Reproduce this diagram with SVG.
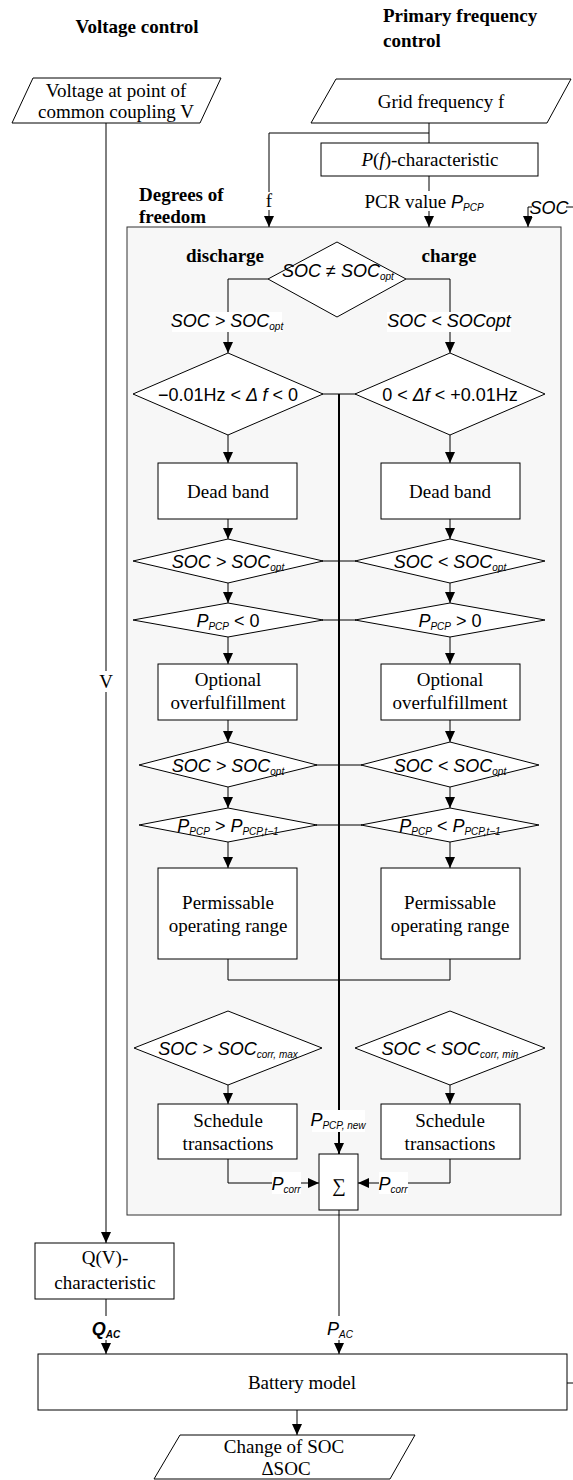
<svg xmlns="http://www.w3.org/2000/svg" width="573" height="1480" viewBox="0 0 573 1480">
<style>
.t{font-family:"Liberation Serif",serif;font-size:19px;fill:#000;text-anchor:middle}
.b{font-family:"Liberation Serif",serif;font-size:19px;font-weight:bold;fill:#000}
.s{font-family:"Liberation Sans",sans-serif;font-size:18px;fill:#000;text-anchor:middle}
.i{font-style:italic}
.sub{font-size:10px;font-style:italic}
.node{fill:#fff;stroke:#000;stroke-width:1}
.ln{fill:none;stroke:#000;stroke-width:1}
.thick{fill:none;stroke:#000;stroke-width:2}
.bg{fill:#fff}
</style>
<defs>
<marker id="arr" markerUnits="userSpaceOnUse" markerWidth="11" markerHeight="10" refX="11" refY="5" orient="auto">
<path d="M0,0 L11,5 L0,10 z" fill="#000"/>
</marker>
</defs>

<g id="titles">
<text class="b" x="137" y="33" text-anchor="middle">Voltage control</text>
<text class="b" x="383" y="22">Primary frequency</text>
<text class="b" x="383" y="47">control</text>
<text class="b" x="139" y="201">Degrees of</text>
<text class="b" x="139" y="223">freedom</text>
</g>

<g id="freedom-box">
<rect x="127" y="227" width="434" height="988" fill="#f7f7f7" stroke="#333" stroke-width="1"/>
<text class="b" x="225" y="262" text-anchor="middle">discharge</text>
<text class="b" x="449" y="262" text-anchor="middle">charge</text>
</g>

<g id="connectors">
<path class="ln" d="M106,123 V1243" stroke="#222" marker-end="url(#arr)"/>
<path class="ln" d="M429,123 V143"/>
<path class="ln" d="M429,133 H269 V227" marker-end="url(#arr)"/>
<path class="ln" d="M429,176 V227" marker-end="url(#arr)"/>
<path class="ln" d="M567,1383 H576 V207 H528 V227" marker-end="url(#arr)"/>
<path class="ln" d="M268,279 H228 V353" marker-end="url(#arr)"/>
<path class="ln" d="M406,279 H450 V353" marker-end="url(#arr)"/>
<path class="ln" d="M228,435 V463" marker-end="url(#arr)"/>
<path class="ln" d="M450,435 V463" marker-end="url(#arr)"/>
<path class="ln" d="M228,519 V539" marker-end="url(#arr)"/>
<path class="ln" d="M450,519 V539" marker-end="url(#arr)"/>
<path class="ln" d="M228,583 V603" marker-end="url(#arr)"/>
<path class="ln" d="M450,583 V603" marker-end="url(#arr)"/>
<path class="ln" d="M228,637 V664" marker-end="url(#arr)"/>
<path class="ln" d="M450,637 V664" marker-end="url(#arr)"/>
<path class="ln" d="M228,720 V742" marker-end="url(#arr)"/>
<path class="ln" d="M450,720 V742" marker-end="url(#arr)"/>
<path class="ln" d="M228,787 V808" marker-end="url(#arr)"/>
<path class="ln" d="M450,787 V808" marker-end="url(#arr)"/>
<path class="ln" d="M228,842 V868" marker-end="url(#arr)"/>
<path class="ln" d="M450,842 V868" marker-end="url(#arr)"/>
<path class="ln" d="M228,959 V980 H450 V959"/>
<path class="ln" d="M228,1085 V1104" marker-end="url(#arr)"/>
<path class="ln" d="M450,1085 V1104" marker-end="url(#arr)"/>
<path class="ln" d="M228,1159 V1183 H319" marker-end="url(#arr)"/>
<path class="ln" d="M450,1159 V1183 H358" marker-end="url(#arr)"/>
<path class="ln" d="M322,394 H356 M322,561 H356 M322,620 H356 M316,765 H362 M316,825 H362"/>
<path class="thick" d="M339,394 V1154" marker-end="url(#arr)"/>
<path class="ln" d="M339,1210 V1354" stroke="#777" marker-end="url(#arr)"/>
<path class="ln" d="M106,1299 V1354" marker-end="url(#arr)"/>
<path class="ln" d="M297,1410 V1435" marker-end="url(#arr)"/>
</g>

<g id="labels">
<rect class="bg" x="99" y="671" width="15" height="21"/>
<text class="t" x="106" y="688">V</text>
<rect class="bg" x="263" y="192" width="12" height="18"/>
<text class="t" x="269" y="207">f</text>
<rect class="bg" x="367" y="191" width="124" height="20"/>
<text class="t" x="424" y="208">PCR value <tspan class="s i" font-size="18">P</tspan><tspan class="sub" font-family="Liberation Sans" font-size="9" dy="3">PCP</tspan></text>
<rect class="bg" x="532" y="197" width="34" height="20"/>
<text class="s i" x="549" y="214">SOC</text>
<rect class="bg" x="172" y="312" width="110" height="20" fill="#fff"/>
<text class="s i" x="227" y="327">SOC &gt; SOC<tspan class="sub" dy="3">opt</tspan></text>
<rect class="bg" x="387" y="312" width="124" height="20"/>
<text class="s i" x="449" y="327">SOC &lt; SOCopt</text>
<rect class="bg" x="312" y="1110" width="53" height="22"/>
<text class="s i" x="338" y="1126">P<tspan class="sub" font-family="Liberation Sans" font-size="9" dy="3">PCP, new</tspan></text>
<rect class="bg" x="272" y="1172" width="29" height="22"/>
<text class="s i" x="286" y="1190">P<tspan class="sub" font-family="Liberation Sans" font-size="9" dy="3">corr</tspan></text>
<rect class="bg" x="379" y="1172" width="29" height="22"/>
<text class="s i" x="393" y="1190">P<tspan class="sub" font-family="Liberation Sans" font-size="9" dy="3">corr</tspan></text>
<rect class="bg" x="92" y="1316" width="28" height="24"/>
<text class="s i" x="106" y="1335" font-weight="bold">Q<tspan class="sub" font-family="Liberation Sans" font-size="9" dy="3">AC</tspan></text>
<rect class="bg" x="327" y="1316" width="26" height="24"/>
<text class="s i" x="340" y="1335">P<tspan class="sub" font-family="Liberation Sans" font-size="9" dy="3">AC</tspan></text>
</g>

<g id="voltage-input">
<polygon class="node" points="33,78 221,78 200,123 12,123"/>
<text class="t" x="116" y="97">Voltage at point of</text>
<text class="t" x="116" y="118">common coupling V</text>
</g>
<g id="grid-frequency">
<polygon class="node" points="336,79 571,79 547,123 311,123"/>
<text class="t" x="441" y="108">Grid frequency f</text>
</g>
<g id="pf-characteristic">
<rect class="node" x="321" y="143" width="217" height="33"/>
<text class="t" x="430" y="166"><tspan font-style="italic">P</tspan>(<tspan font-style="italic">f</tspan>)-characteristic</text>
</g>

<g id="d-soc-neq">
<polygon class="node" points="337,242 406,279 337,317 268,279"/>
<text class="s i" x="338" y="277">SOC ≠  SOC<tspan class="sub" dy="3">opt</tspan></text>
</g>

<g id="d-df-neg">
<polygon class="node" points="228,353 323,394 228,435 133,394"/>
<text class="s" x="228" y="401" font-size="19.5">−0.01Hz &lt; <tspan class="i">Δ f</tspan> &lt; 0</text>
</g>
<g id="d-df-pos">
<polygon class="node" points="450,353 545,394 450,435 355,394"/>
<text class="s" x="450" y="401" font-size="19">0 &lt; <tspan class="i">Δf</tspan> &lt; +0.01Hz</text>
</g>

<g id="deadband-l"><rect class="node" x="158" y="463" width="139" height="56"/><text class="t" x="228" y="498">Dead band</text></g>
<g id="deadband-r"><rect class="node" x="381" y="463" width="139" height="56"/><text class="t" x="450" y="498">Dead band</text></g>

<g id="d-soc-gt-1">
<polygon class="node" points="228,539 323,561 228,583 133,561"/>
<text class="s i" x="228" y="568">SOC &gt; SOC<tspan class="sub" dy="3">opt</tspan></text>
</g>
<g id="d-soc-lt-1">
<polygon class="node" points="450,539 545,561 450,583 355,561"/>
<text class="s i" x="450" y="568">SOC &lt; SOC<tspan class="sub" dy="3">opt</tspan></text>
</g>

<g id="d-p-neg">
<polygon class="node" points="228,603 323,620 228,637 133,620"/>
<text class="s" x="228" y="627"><tspan class="i">P</tspan><tspan class="sub" font-size="9" dy="3">PCP</tspan><tspan dy="-3"> &lt; 0</tspan></text>
</g>
<g id="d-p-pos">
<polygon class="node" points="450,603 545,620 450,637 355,620"/>
<text class="s" x="450" y="627"><tspan class="i">P</tspan><tspan class="sub" font-size="9" dy="3">PCP</tspan><tspan dy="-3"> &gt;  0</tspan></text>
</g>

<g id="optional-l"><rect class="node" x="158" y="664" width="139" height="56"/><text class="t" x="228" y="686">Optional</text><text class="t" x="228" y="709">overfulfillment</text></g>
<g id="optional-r"><rect class="node" x="381" y="664" width="139" height="56"/><text class="t" x="450" y="686">Optional</text><text class="t" x="450" y="709">overfulfillment</text></g>

<g id="d-soc-gt-2">
<polygon class="node" points="228,742 317,765 228,787 139,765"/>
<text class="s i" x="228" y="772">SOC &gt; SOC<tspan class="sub" dy="3">opt</tspan></text>
</g>
<g id="d-soc-lt-2">
<polygon class="node" points="450,742 539,765 450,787 361,765"/>
<text class="s i" x="450" y="772">SOC &lt; SOC<tspan class="sub" dy="3">opt</tspan></text>
</g>

<g id="d-p-gt-prev">
<polygon class="node" points="228,808 317,825 228,842 139,825"/>
<text class="s i" x="228" y="832">P<tspan class="sub" font-size="9" dy="3">PCP</tspan><tspan dy="-3" font-style="normal"> &gt; </tspan>P<tspan class="sub" font-size="9" dy="3">PCP,t−1</tspan></text>
</g>
<g id="d-p-lt-prev">
<polygon class="node" points="450,808 539,825 450,842 361,825"/>
<text class="s i" x="450" y="832">P<tspan class="sub" font-size="9" dy="3">PCP</tspan><tspan dy="-3" font-style="normal"> &lt; </tspan>P<tspan class="sub" font-size="9" dy="3">PCP,t−1</tspan></text>
</g>

<g id="permissable-l"><rect class="node" x="158" y="868" width="139" height="91"/><text class="t" x="228" y="909">Permissable</text><text class="t" x="228" y="932">operating range</text></g>
<g id="permissable-r"><rect class="node" x="381" y="868" width="139" height="91"/><text class="t" x="450" y="909">Permissable</text><text class="t" x="450" y="932">operating range</text></g>

<g id="d-soc-corr-max">
<polygon class="node" points="228,1011 322,1048 228,1085 134,1048"/>
<text class="s i" x="228" y="1055">SOC &gt;  SOC<tspan class="sub" font-size="9" dy="3">corr, max</tspan></text>
</g>
<g id="d-soc-corr-min">
<polygon class="node" points="450,1011 545,1048 450,1085 355,1048"/>
<text class="s i" x="450" y="1055">SOC &lt;  SOC<tspan class="sub" font-size="9" dy="3">corr, min</tspan></text>
</g>

<g id="schedule-l"><rect class="node" x="158" y="1104" width="139" height="55"/><text class="t" x="228" y="1127">Schedule</text><text class="t" x="228" y="1150">transactions</text></g>
<g id="schedule-r"><rect class="node" x="381" y="1104" width="139" height="55"/><text class="t" x="450" y="1127">Schedule</text><text class="t" x="450" y="1150">transactions</text></g>

<g id="sum">
<rect class="node" x="319" y="1154" width="39" height="56"/>
<text class="t" x="339" y="1192" font-size="24">∑</text>
</g>

<g id="qv-characteristic">
<rect class="node" x="35" y="1243" width="139" height="56"/>
<text class="t" x="105" y="1264">Q(V)-</text>
<text class="t" x="105" y="1289">characteristic</text>
</g>

<g id="battery-model">
<rect class="node" x="38" y="1354" width="529" height="56" stroke="#333"/>
<text class="t" x="302" y="1389">Battery model</text>
</g>

<g id="change-of-soc">
<polygon class="node" points="180,1435 415,1435 390,1479 154,1479"/>
<text class="t" x="284" y="1453">Change of SOC</text>
<text class="t" x="286" y="1475">ΔSOC</text>
</g>
</svg>
